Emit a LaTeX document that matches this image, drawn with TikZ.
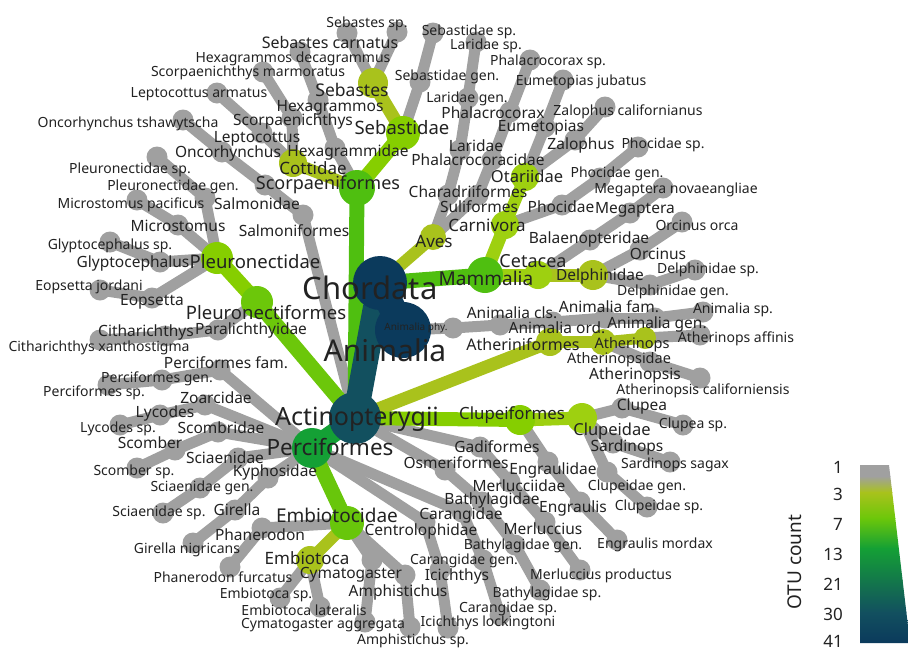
\documentclass[tikz,border=0pt]{standalone}
\usepackage{fontspec}
\setmainfont{Noto Sans}
\pgfdeclarelayer{edges}
\pgfsetlayers{edges,main}
\definecolor{otugray}{HTML}{A0A0A0}
\definecolor{otuolive}{HTML}{A9C21C}
\definecolor{otuyellow}{HTML}{9ED010}
\definecolor{otulime}{HTML}{86CE00}
\definecolor{otugreen}{HTML}{6CC70A}
\definecolor{otuleaf}{HTML}{4FBF10}
\definecolor{otuforest}{HTML}{14A035}
\definecolor{otuteal}{HTML}{12505F}
\definecolor{otunavy}{HTML}{0B3A5C}
\definecolor{labtext}{HTML}{222222}
\newcommand{\tsize}[1]{\fontsize{#1}{#1}\selectfont}
\tikzset{
  hub/.style={circle,inner sep=0pt},
  leaf/.style={hub,fill=otugray,minimum size=21pt},
  twig/.style={draw=otugray,line width=11pt},
  taxlbl/.style={text=labtext,inner sep=0pt,anchor=base},
  leaflbl/.style={taxlbl,font=\tsize{14}},
  midlbl/.style={taxlbl,font=\tsize{15.5}},
}
\begin{document}
\begin{tikzpicture}[x=1pt,y=-1pt]
\useasboundingbox (0,0) rectangle (908,651);

% gray taxa (1 OTU)
\foreach \n/\x/\y in {aphy/453/328, acls/500/325, aord/553/322, afam/605/318, agen/655/318, asp/703/312,
  athaff/700/335, atps/650/362, atpscal/700/378,
  clupea/622/408, clupeasp/683/425, sard/613/443, sardsag/670/462, clpgen/607/472, clpsp/647/507,
  engr/548/462, engrs/580/502, engrm/617/540,
  gad/480/447, merl/510/482, merlu/545/522, merlp/580/570,
  osm/445/470, bath/482/502, bathg/515/545, baths/540/590,
  cen/425/522, icic/440/570, icicl/448/628, cara/462/512, carg/483/560, cars/500/615,
  amp/405/575, amps/410/627, cym/372/560, cyma/365/622, ebts/280/598, ebtl/320/607,
  phn/262/528, phnf/230/567, kyp/268/478, gir/235/510, girn/193/543,
  sci/238/458, scig/200/488, scis/163/513, scb/218/432, scm/175/450, scms/137/468,
  zoa/205/405, lyc/160/415, lycs/120/425, pfam/220/370, pgen/162/380, psp/108/385,
  par/218/330, cith/165/336, cithx/100/340, eop/152/298, eopj/100/290,
  gly/160/262, glys/110/242, mic/178/225, micp/137/200, plg/205/198, pls/157/157,
  salf/303/215, salm/265/185, onc/222/152, onct/183/120,
  lep/262/133, lepa/217/93, scp/292/118, scpm/263/72,
  hexf/335/148, hexg/318/100, hexd/300/52,
  sebcar/347/33, sebssp/397/32, sebg/420/82, sebsp/433/33,
  cha/448/195, lar/460/150, larg/468/98, lars/476/42,
  sul/478/195, phc/492/160, phx/510/112, phxs/530/60,
  eum/545/127, eumj/563/80, zal/575/140, zalc/605/107,
  pho/562/205, phog/600/178, phos/638/147,
  bal/590/240, meg/630/213, megn/663/188,
  orc/640/250, orco/682/222, delg/650/285, dels/695/270}
  \node[leaf] (\n) at (\x,\y) {};

% coloured taxa
\node[hub,fill=otuolive,minimum size=22pt] (athp) at (645,338) {};
\node[hub,fill=otuolive,minimum size=26pt] (atho) at (603,342) {};
\node[hub,fill=otuolive,minimum size=28pt] (athf) at (550,342) {};
\node[hub,fill=otuolive,minimum size=26pt] (ave) at (433,237) {};
\node[hub,fill=otuolive,minimum size=28pt] (cot) at (293,163) {};
\node[hub,fill=otuolive,minimum size=30pt] (sbs) at (373,83) {};
\node[hub,fill=otuolive,minimum size=28pt] (ebt) at (310,560) {};
\node[hub,fill=otuolive,minimum size=30pt] (del) at (593,275) {};
\node[hub,fill=otuyellow,minimum size=28pt] (car) at (505,225) {};
\node[hub,fill=otuyellow,minimum size=28pt] (ota) at (525,177) {};
\node[hub,fill=otuyellow,minimum size=28pt] (cet) at (538,275) {};
\node[hub,fill=otuyellow,minimum size=30pt] (clp) at (582,418) {};
\node[hub,fill=otulime,minimum size=30pt] (clf) at (520,420) {};
\node[hub,fill=otulime,minimum size=32pt] (plt) at (217,258) {};
\node[hub,fill=otulime,minimum size=34pt] (seb) at (403,133) {};
\node[hub,fill=otugreen,minimum size=32pt] (plf) at (257,302) {};
\node[hub,fill=otugreen!85!otuleaf,minimum size=34pt] (emb) at (347,523) {};
\node[hub,fill=otuleaf,minimum size=36pt] (scf) at (357,188) {};
\node[hub,fill=otuleaf,minimum size=36pt] (mam) at (485,275) {};
\node[hub,fill=otuforest,minimum size=40pt] (prc) at (312,448) {};
\node[hub,fill=otuteal,minimum size=52pt] (act) at (355,418) {};
\node[hub,fill=otunavy,minimum size=56pt] (ani) at (403,330) {};
\node[hub,fill=otunavy,minimum size=54pt] (cho) at (380,283) {};

\begin{pgfonlayer}{edges}
\foreach \a/\b in {ani/aphy, aphy/acls, acls/aord, aord/afam, afam/agen, agen/asp,
  athp/athaff, atho/atps, atps/atpscal,
  clf/engr, engr/engrs, engrs/engrm,
  clp/clupea, clupea/clupeasp, clp/sard, sard/sardsag, clp/clpgen, clpgen/clpsp,
  act/gad, gad/merl, merl/merlu, merlu/merlp,
  act/osm, osm/bath, bath/bathg, bathg/baths,
  prc/cen, cen/icic, icic/icicl, prc/cara, cara/carg, carg/cars,
  emb/phn, phn/phnf, ebt/ebts, ebt/ebtl, emb/cym, cym/cyma, emb/amp, amp/amps,
  prc/kyp, kyp/gir, gir/girn, prc/sci, sci/scig, scig/scis, prc/scb, scb/scm, scm/scms,
  prc/zoa, zoa/lyc, lyc/lycs, prc/pfam, pfam/pgen, pgen/psp,
  plf/par, par/cith, cith/cithx, plt/eop, eop/eopj, plt/gly, gly/glys, plt/mic, mic/micp, plt/plg, plg/pls,
  act/salf, salf/salm, salm/onc, onc/onct,
  sbs/sebcar, sbs/sebssp, seb/sebg, sebg/sebsp,
  cot/lep, lep/lepa, cot/scp, scp/scpm, scf/hexf, hexf/hexg, hexg/hexd,
  ave/cha, cha/lar, lar/larg, larg/lars, ave/sul, sul/phc, phc/phx, phx/phxs,
  ota/eum, eum/eumj, ota/zal, zal/zalc, car/pho, pho/phog, phog/phos,
  cet/bal, bal/meg, meg/megn, del/orc, orc/orco, del/delg, delg/dels}
  \draw[twig] (\a.center) -- (\b.center);
% coloured branches, thin ones first
\draw[line width=11pt,otuolive] (atho.center) -- (athp.center);
\draw[line width=12pt,otuolive] (athf.center) -- (atho.center);
\draw[line width=12pt,otuolive] (emb.center) -- (ebt.center);
\draw[line width=12pt,otuolive] (scf.center) -- (cot.center);
\draw[line width=12pt,otuyellow] (car.center) -- (ota.center);
\draw[line width=12pt,otuolive] (cho.center) -- (ave.center);
\draw[line width=13pt,otuolive] (seb.center) -- (sbs.center);
\draw[line width=13pt,otuyellow] (mam.center) -- (car.center);
\draw[line width=13pt,otuolive] (cet.center) -- (del.center);
\draw[line width=13pt,otuyellow] (mam.center) -- (cet.center);
\draw[line width=13pt,otuyellow] (clf.center) -- (clp.center);
\draw[line width=13pt,otuolive] (act.center) -- (athf.center);
\draw[line width=14pt,otulime] (act.center) -- (clf.center);
\draw[line width=15pt,otulime] (scf.center) -- (seb.center);
\draw[line width=15pt,otulime] (plf.center) -- (plt.center);
\draw[line width=15pt,otugreen!85!otuleaf] (prc.center) -- (emb.center);
\draw[line width=15pt,otugreen] (act.center) -- (plf.center);
\draw[line width=15pt,otuleaf] (act.center) -- (scf.center);
\draw[line width=15pt,otuleaf] (cho.center) -- (mam.center);
\draw[line width=19pt,otuforest] (act.center) -- (prc.center);
\draw[line width=25pt,otuteal] (cho.center) -- (act.center);
\draw[line width=27pt,otunavy] (ani.center) -- (cho.center);
\end{pgfonlayer}

% leaf labels
\foreach \x/\y/\t [count=\i] in {367/22/Sebastes sp., 293/57/Hexagrammos decagrammus,
  248/71/Scorpaenichthys marmoratus, 199/92/Leptocottus armatus, 128/122/Oncorhynchus tshawytscha,
  130/168/Pleuronectidae sp., 173/185/Pleuronectidae gen., 131/203/Microstomus pacificus,
  110/244/Glyptocephalus sp., 89/285/Eopsetta jordani, 99/346/Citharichthys xanthostigma,
  157/377/Perciformes gen., 94/391/Perciformes sp., 118/427/Lycodes sp., 134/470/Scomber sp.,
  202/486/Sciaenidae gen., 159/511/Sciaenidae sp., 187/548/Girella nigricans,
  223/577/Phanerodon furcatus, 266/593/Embiotoca sp., 304/610/Embiotoca lateralis,
  323/623/Cymatogaster aggregata, 413/639/Amphistichus sp., 464/559/Carangidae gen.,
  508/607/Carangidae sp., 488/621/Icichthys lockingtoni, 547/592/Bathylagidae sp.,
  601/574/Merluccius productus, 523/544/Bathylagidae gen., 655/543/Engraulis mordax,
  637/485/Clupeidae gen., 659/505/Clupeidae sp., 675/463/Sardinops sagax, 693/423/Clupea sp.,
  736/337/Atherinops affinis, 703/389/Atherinopsis californiensis, 733/308/Animalia sp.,
  673/290/Delphinidae gen., 708/268/Delphinidae sp., 697/225/Orcinus orca,
  676/188/Megaptera novaeangliae, 617/172/Phocidae gen., 663/143/Phocidae sp.,
  628/110/Zalophus californianus, 467/97/Laridae gen., 581/80/Eumetopias jubatus,
  447/75/Sebastidae gen., 548/60/Phalacrocorax sp., 486/44/Laridae sp., 469/30/Sebastidae sp.}
  \node[leaflbl] (gl\i) at (\x,\y+5) {\t};

% inner gray labels
\foreach \x/\y/\t [count=\i] in {330/106/Hexagrammos, 293/120/Scorpaenichthys, 257/137/Leptocottus,
  228/152/Oncorhynchus, 348/151/Hexagrammidae, 257/204/Salmonidae, 178/226/Microstomus,
  294/231/Salmoniformes, 133/262/Glyptocephalus, 152/300/Eopsetta, 146/331/Citharichthys,
  251/329/Paralichthyidae, 226/363/Perciformes fam., 216/398/Zoarcidae, 165/412/Lycodes,
  221/428/Scombridae, 150/443/Scomber, 225/458/Sciaenidae, 275/471/Kyphosidae, 237/510/Girella,
  260/535/Phanerodon, 421/530/Centrolophidae, 351/573/Cymatogaster, 398/591/Amphistichus,
  457/575/Icichthys, 543/529/Merluccius, 461/514/Carangidae, 492/499/Bathylagidae,
  519/486/Merlucciidae, 456/463/Osmeriformes, 553/469/Engraulidae, 497/447/Gadiformes,
  573/507/Engraulis, 627/446/Sardinops, 642/405/Clupea, 635/374/Atherinopsis,
  512/313/Animalia cls., 557/328/Animalia ord., 609/307/Animalia fam., 657/323/Animalia gen.,
  658/254/Orcinus, 589/238/Balaenopteridae, 479/207/Suliformes, 561/207/Phocidae,
  635/208/Megaptera, 468/192/Charadriiformes, 478/160/Phalacrocoracidae, 476/146/Laridae,
  581/144/Zalophus, 541/126/Eumetopias, 493/113/Phalacrocorax}
  \node[midlbl] (ml\i) at (\x,\y+5.5) {\t};

% coloured labels
\node[taxlbl,font=\tsize{10}] (aphyt) at (416,330.5) {Animalia phy.};
\node[taxlbl,font=\tsize{31}] (chot) at (370,299) {Chordata};
\node[taxlbl,font=\tsize{30}] (anit) at (385,361) {Animalia};
\node[taxlbl,font=\tsize{25}] (actt) at (357,425) {Actinopterygii};
\node[taxlbl,font=\tsize{22.5}] (prct) at (330,455) {Perciformes};
\node[taxlbl,font=\tsize{19}] (mamt) at (486,285) {Mammalia};
\node[taxlbl,font=\tsize{18}] (scft) at (328,189.5) {Scorpaeniformes};
\node[taxlbl,font=\tsize{18.5}] (sebt) at (402,134.5) {Sebastidae};
\node[taxlbl,font=\tsize{17.5}] (sbst) at (352,96) {Sebastes};
\node[taxlbl,font=\tsize{16}] (sbsct) at (330,48) {Sebastes carnatus};
\node[taxlbl,font=\tsize{17}] (cott) at (313,174) {Cottidae};
\node[taxlbl,font=\tsize{18.5}] (pltt) at (255,268.5) {Pleuronectidae};
\node[taxlbl,font=\tsize{18.5}] (plft) at (266,319.5) {Pleuronectiformes};
\node[taxlbl,font=\tsize{19}] (embt) at (337,522) {Embiotocidae};
\node[taxlbl,font=\tsize{17}] (ebtt) at (307,564) {Embiotoca};
\node[taxlbl,font=\tsize{16.8}] (clft) at (512,419) {Clupeiformes};
\node[taxlbl,font=\tsize{16.5}] (clpt) at (612,435) {Clupeidae};
\node[taxlbl,font=\tsize{16}] (athft) at (523,350) {Atheriniformes};
\node[taxlbl,font=\tsize{14.5}] (athot) at (619,363) {Atherinopsidae};
\node[taxlbl,font=\tsize{14.5}] (athpt) at (632,348) {Atherinops};
\node[taxlbl,font=\tsize{17}] (avet) at (434,247) {Aves};
\node[taxlbl,font=\tsize{17}] (cart) at (487,231) {Carnivora};
\node[taxlbl,font=\tsize{18}] (cett) at (533,267.5) {Cetacea};
\node[taxlbl,font=\tsize{15.5}] (delt) at (600,280.5) {Delphinidae};
\node[taxlbl,font=\tsize{16.5}] (otat) at (527,182) {Otariidae};

% legend
\begin{scope}
\clip (860,465) -- (889,465) -- (910,643) -- (860,643) -- cycle;
\fill[otugray] (860,465) rectangle (910,476.5);
\shade[top color=otugray,bottom color=otuolive] (860,476) rectangle (910,492.5);
\shade[top color=otuolive,bottom color=otugreen] (860,492) rectangle (910,518.5);
\shade[top color=otugreen,bottom color=otuforest] (860,518) rectangle (910,548.5);
\shade[top color=otuforest,bottom color=otuforest!50!otuteal] (860,548) rectangle (910,580.5);
\shade[top color=otuforest!50!otuteal,bottom color=otuteal] (860,580) rectangle (910,612.5);
\shade[top color=otuteal,bottom color=otunavy] (860,612) rectangle (910,643);
\end{scope}
\node[taxlbl,font=\tsize{19},rotate=90,anchor=center] (otut) at (795,562) {OTU count};
\foreach \v/\y in {1/467,3/494,7/524,13/554,21/584,30/614}
  \node[taxlbl,font=\tsize{17},anchor=base east] (key\v) at (843,\y+6) {\v};
\node[taxlbl,font=\tsize{17},anchor=base east] (key41) at (843,647.5) {41};
\end{tikzpicture}
\end{document}
